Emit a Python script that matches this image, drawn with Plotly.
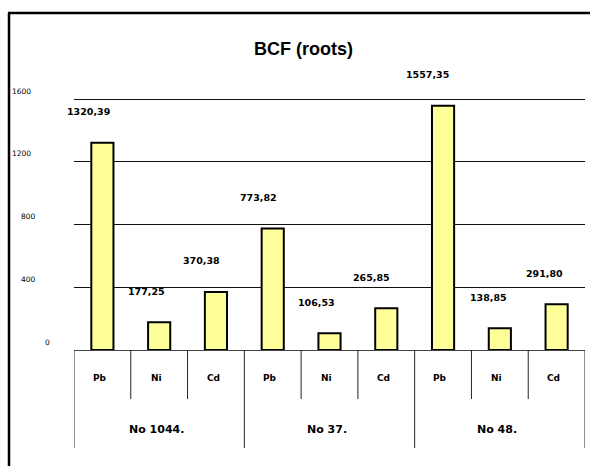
import plotly.graph_objects as go

# ---- data ----
groups = ["No 1044.", "No 37.", "No 48."]
elements = ["Pb", "Ni", "Cd"]
values = [1320.39, 177.25, 370.38, 773.82, 106.53, 265.85, 1557.35, 138.85, 291.80]
value_labels = ["1320,39", "177,25", "370,38", "773,82", "106,53", "265,85", "1557,35", "138,85", "291,80"]
y_ticks = [0, 400, 800, 1200, 1600]
y_tick_labels = ["0", "400", "800", "1200", "1600"]

# ---- layout geometry (pixels) ----
W, H = 590, 466
PX0, PX1 = 74, 585     # plot area left/right
PY0, PY1 = 83, 350     # plot area top/bottom
PX_PER_UNIT = (350 - 99) / 1600.0
Y_TOP = (PY1 - PY0) / PX_PER_UNIT


def px_x(px):
    return (px - PX0) / (PX1 - PX0)


def px_y(py):
    return (PY1 - py) / (PY1 - PY0)


label_xshift = [-14, -13, -14, -14, -13, -15, -16, -11, -12]
tick_label_px = [47, 28, 28.5, 21.5, 21.5]

n = len(values)
xs = list(range(n))

fig = go.Figure()
fig.add_trace(go.Bar(
    x=xs, y=values, width=0.39,
    marker=dict(color="#FFFF99", line=dict(color="black", width=2)),
    hoverinfo="skip",
))

C = dict(xanchor="center", yanchor="middle", showarrow=False)
annotations = []
for i, (v, t) in enumerate(zip(values, value_labels)):
    annotations.append(dict(
        x=i, y=v, xref="x", yref="y", text=t,
        xshift=label_xshift[i], yshift=31,
        font=dict(family="DejaVu Sans", size=9.5, color="black", weight="bold"), **C,
    ))

for tv, tl, tx in zip(y_ticks, y_tick_labels, tick_label_px):
    annotations.append(dict(
        x=px_x(tx), y=tv, xref="paper", yref="y", text=tl,
        yshift=8, font=dict(family="DejaVu Sans", size=7.5, color="black"), **C,
    ))

shapes = []
for b in range(n + 1):
    is_group = (b % len(elements) == 0)
    shapes.append(dict(
        type="line", xref="x", yref="paper",
        x0=b - 0.5, x1=b - 0.5, y0=0, y1=px_y(448 if is_group else 399),
        line=dict(color="#222", width=1),
    ))

for i in range(n):
    annotations.append(dict(
        x=i - 0.05, y=px_y(378), xref="x", yref="paper", text=elements[i % len(elements)],
        font=dict(family="DejaVu Sans", size=9, color="black", weight="bold"), **C,
    ))
for g, name in enumerate(groups):
    annotations.append(dict(
        x=g * len(elements) + 1 - 0.05, y=px_y(429), xref="x", yref="paper", text=name,
        font=dict(family="DejaVu Sans", size=11, color="black", weight="bold"), **C,
    ))

# outer frame (left and top)
shapes.append(dict(type="line", xref="paper", yref="paper",
                   x0=px_x(9), x1=px_x(9), y0=px_y(13), y1=px_y(470),
                   line=dict(color="black", width=2.5)))
shapes.append(dict(type="line", xref="paper", yref="paper",
                   x0=px_x(8), x1=px_x(595), y0=px_y(13), y1=px_y(13),
                   line=dict(color="black", width=2.5)))

# title
annotations.append(dict(
    x=px_x(303), y=px_y(49), xref="paper", yref="paper", text="<b>BCF (roots)</b>",
    font=dict(family="Liberation Sans", size=18, color="black"), **C,
))

fig.update_layout(
    width=W, height=H,
    margin=dict(l=PX0, r=W - PX1, t=PY0, b=H - PY1, pad=0),
    paper_bgcolor="white", plot_bgcolor="white",
    showlegend=False,
    xaxis=dict(range=[-0.5, n - 0.5], showticklabels=False, showgrid=False, zeroline=False,
               showline=True, linecolor="#444", linewidth=1, ticks=""),
    yaxis=dict(range=[0, Y_TOP], tickvals=y_ticks, showticklabels=False, showgrid=True,
               gridcolor="#111", gridwidth=1, zeroline=False, showline=False),
    annotations=annotations,
    shapes=shapes,
)

fig.write_html("out.html", config={"displayModeBar": False},
               post_script="document.body.style.margin='0';document.body.style.overflow='hidden';")
